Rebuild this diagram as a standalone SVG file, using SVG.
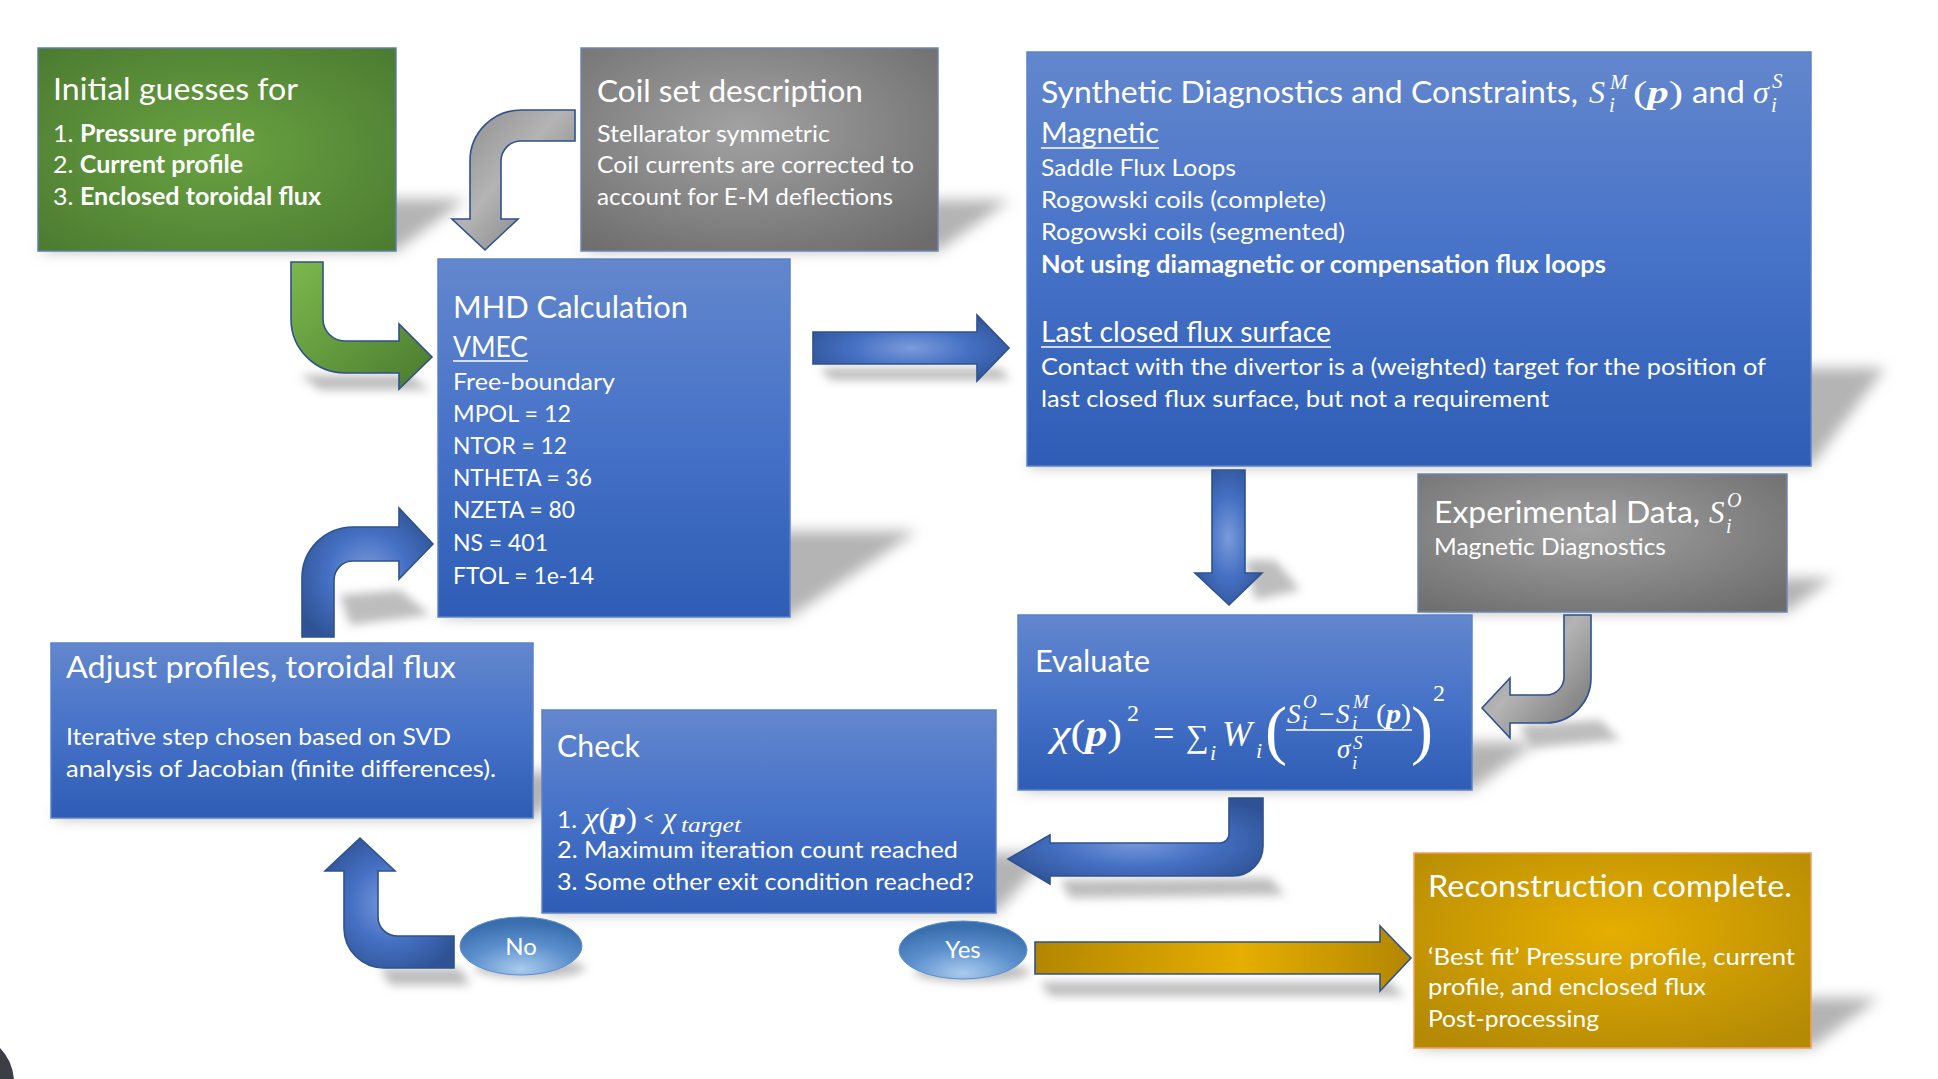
<svg xmlns="http://www.w3.org/2000/svg" width="1938" height="1079" viewBox="0 0 1938 1079">
<style>
.t{font-family:Lato,"Open Sans","Noto Sans",sans-serif;fill:#fff}
.ti{font-size:31px}
.bd{font-size:24px}
.sh{font-size:28px}
.b{font-weight:bold}
.m{font-family:"Liberation Serif","DejaVu Serif",serif;fill:#fff;font-style:italic}
.n{font-style:normal}
.bi{font-weight:bold;font-style:italic}
.ul{stroke:#fff;stroke-width:1.6}
.blue{fill:url(#gBlue);stroke:#5b82c9;stroke-width:1.5}
.gray{fill:url(#gGray);stroke:#6f86b3;stroke-width:1.5}
.green{fill:url(#gGreen);stroke:#5a80a8;stroke-width:1.5}
.gold{fill:url(#gGold);stroke:#f0a060;stroke-width:1.5}
.shd{fill:#b4b4b4;filter:url(#blur)}
.ashd{fill:#bdbdbd;filter:url(#blur2)}
.arr{stroke:#2f528f;stroke-width:1.6;stroke-linejoin:miter}
.ell{fill:url(#gEll);stroke:#5b8fd0;stroke-width:1}
</style>
<defs>
<linearGradient id="gBlue" x1="0" y1="0" x2="0" y2="1">
<stop offset="0" stop-color="#6387cd"/><stop offset="0.5" stop-color="#4672c8"/><stop offset="1" stop-color="#2f5db5"/>
</linearGradient>
<radialGradient id="gGray" cx="0.45" cy="0.4" r="0.75">
<stop offset="0" stop-color="#a2a2a2"/><stop offset="1" stop-color="#6c6c6c"/>
</radialGradient>
<radialGradient id="gGreen" cx="0.5" cy="0.5" r="0.7">
<stop offset="0" stop-color="#69a241"/><stop offset="1" stop-color="#4c7b31"/>
</radialGradient>
<radialGradient id="gGold" cx="0.5" cy="0.4" r="0.7">
<stop offset="0" stop-color="#e6ae00"/><stop offset="1" stop-color="#b48a05"/>
</radialGradient>
<radialGradient id="gArrB" cx="0.5" cy="0.5" r="0.6">
<stop offset="0" stop-color="#7b9bdb"/><stop offset="0.5" stop-color="#4570c3"/><stop offset="1" stop-color="#2e5294"/>
</radialGradient>
<linearGradient id="gArrGray" x1="0" y1="0" x2="1" y2="1">
<stop offset="0" stop-color="#8a8a8a"/><stop offset="0.45" stop-color="#b4b4b4"/><stop offset="1" stop-color="#6e6e6e"/>
</linearGradient>
<linearGradient id="gArrGreen" x1="0" y1="0" x2="1" y2="1">
<stop offset="0" stop-color="#7cb84d"/><stop offset="1" stop-color="#4a7a2e"/>
</linearGradient>
<linearGradient id="gArrGold" x1="0" y1="0" x2="1" y2="0">
<stop offset="0" stop-color="#b28600"/><stop offset="0.55" stop-color="#e6ae00"/><stop offset="1" stop-color="#b28600"/>
</linearGradient>
<radialGradient id="gEll" cx="0.5" cy="0.9" r="0.8">
<stop offset="0" stop-color="#a9cbee"/><stop offset="0.55" stop-color="#5b8fcc"/><stop offset="1" stop-color="#3a6fae"/>
</radialGradient>
<filter id="blur" x="-20%" y="-40%" width="140%" height="180%"><feGaussianBlur stdDeviation="7"/></filter>
<filter id="blur2" x="-20%" y="-60%" width="140%" height="220%"><feGaussianBlur stdDeviation="5"/></filter>
</defs>
<rect width="1938" height="1079" fill="#fff"/>
<path d="M0,1048 Q12,1060 14,1079 L0,1079 Z" fill="#3b3e45"/>

<g id="shadows">
<polygon class="shd" points="38,251 396,251 466,199 108,199"/>
<polygon class="shd" points="581,251 938,251 1010,200 653,200"/>
<polygon class="shd" points="438,617 790,617 917,531 565,531"/>
<polygon class="shd" points="1027,466 1811,466 1885,368 1101,368"/>
<polygon class="shd" points="1418,612 1787,612 1833,578 1464,578"/>
<polygon class="shd" points="1018,790 1472,790 1537,742 1083,742"/>
<polygon class="shd" points="51,818 533,818 593,772 111,772"/>
<polygon class="shd" points="542,913 996,913 1051,853 597,853"/>
<polygon class="shd" points="1414,1048 1811,1048 1879,998 1482,998"/>
<polygon class="ashd" points="820,368 1000,368 1010,380 830,380"/>
<polygon class="ashd" points="1040,982 1390,982 1405,996 1050,996"/>
<polygon class="ashd" points="300,375 410,375 430,390 320,390"/>
<polygon class="ashd" points="1245,560 1275,560 1300,590 1255,600"/>
<polygon class="ashd" points="1520,725 1600,720 1620,740 1530,748"/>
<polygon class="ashd" points="340,595 400,590 430,615 350,625"/>
<polygon class="ashd" points="1060,880 1270,878 1285,895 1070,898"/>
<polygon class="ashd" points="380,968 460,968 470,985 390,985"/>
<ellipse class="ashd" cx="530" cy="968" rx="55" ry="10"/>
<ellipse class="ashd" cx="972" cy="972" rx="58" ry="10"/>
</g>

<g id="connectors">
<path id="arrow-initial-mhd" class="arr" fill="url(#gArrGreen)" d="M291,262 H323 V319 A22,22 0 0 0 345,341 H399 V324 L432,357 L399,389 V373 H345 A54,54 0 0 1 291,319 Z"/>
<path id="arrow-coil-mhd" class="arr" fill="url(#gArrGray)" d="M575,110 V141 H521 A20,20 0 0 0 501,161 V219 H518 L485,250 L452,219 H470 V161 A51,51 0 0 1 521,110 Z"/>
<path id="arrow-adjust-mhd" class="arr" fill="url(#gArrB)" d="M302,637 V578 A51,51 0 0 1 353,527 H399 V508 L433,544 L399,579 V561 H353 A19,19 0 0 0 334,580 V637 Z"/>
<path id="arrow-mhd-synth" class="arr" fill="url(#gArrB)" d="M813,332 H977 V315 L1009,348 L977,381 V364 H813 Z"/>
<path id="arrow-synth-eval" class="arr" fill="url(#gArrB)" d="M1212,470 H1245 V573 H1262 L1229,605 L1195,573 H1212 Z"/>
<path id="arrow-exp-eval" class="arr" fill="url(#gArrGray)" d="M1564,615 H1591 V678 A45,45 0 0 1 1546,723 H1510 V738 L1482,708 L1510,678 V695 H1546 A18,18 0 0 0 1564,677 Z"/>
<path id="arrow-eval-check" class="arr" fill="url(#gArrB)" d="M1229,798 H1263 V846 A30,30 0 0 1 1233,876 H1050 V884 L1008,859 L1050,835 V843 H1220 A9,9 0 0 0 1229,834 Z"/>
<path id="arrow-no-adjust" class="arr" fill="url(#gArrB)" d="M454,936 V968 H384 A40,40 0 0 1 344,928 V871 H325 L360,838 L395,871 H378 V917 A19,19 0 0 0 397,936 Z"/>
<path id="arrow-yes-recon" class="arr" fill="url(#gArrGold)" d="M1035,942 H1380 V926 L1411,958 L1380,991 V974 H1035 Z"/>
</g>

<g id="node-initial">
<rect class="green" x="38" y="48" width="358" height="203"/>
<text class="t ti" x="53" y="100" textLength="245" lengthAdjust="spacingAndGlyphs">Initial guesses for</text>
<text class="t bd" x="53" y="142" textLength="202" lengthAdjust="spacingAndGlyphs">1. <tspan class="b">Pressure profile</tspan></text>
<text class="t bd" x="53" y="173" textLength="190" lengthAdjust="spacingAndGlyphs">2. <tspan class="b">Current profile</tspan></text>
<text class="t bd" x="53" y="205" textLength="268" lengthAdjust="spacingAndGlyphs">3. <tspan class="b">Enclosed toroidal flux</tspan></text>
</g>

<g id="node-coil">
<rect class="gray" x="581" y="48" width="357" height="203"/>
<text class="t ti" x="597" y="102" textLength="266" lengthAdjust="spacingAndGlyphs">Coil set description</text>
<text class="t bd" x="597" y="142" textLength="233" lengthAdjust="spacingAndGlyphs">Stellarator symmetric</text>
<text class="t bd" x="597" y="173" textLength="317" lengthAdjust="spacingAndGlyphs">Coil currents are corrected to</text>
<text class="t bd" x="597" y="205" textLength="296" lengthAdjust="spacingAndGlyphs">account for E-M deflections</text>
</g>

<g id="node-synthetic">
<rect class="blue" x="1027" y="52" width="784" height="414"/>
<text class="t ti" x="1041" y="103" textLength="537" lengthAdjust="spacingAndGlyphs">Synthetic Diagnostics and Constraints,</text>
<text class="m" x="1589" y="103" font-size="32">S</text>
<text class="m" x="1610" y="89" font-size="21">M</text>
<text class="m" x="1609" y="112" font-size="21">i</text>
<text class="m" x="1633" y="103" font-size="32" textLength="50" lengthAdjust="spacingAndGlyphs"><tspan class="n">(</tspan><tspan class="bi">p</tspan><tspan class="n">)</tspan></text>
<text class="t ti" x="1692" y="103" textLength="53" lengthAdjust="spacingAndGlyphs">and</text>
<text class="m" x="1753" y="103" font-size="32">σ</text>
<text class="m" x="1772" y="88" font-size="21">S</text>
<text class="m" x="1771" y="112" font-size="21">i</text>
<text class="t sh" x="1041" y="143" textLength="118" lengthAdjust="spacingAndGlyphs">Magnetic</text>
<line class="ul" x1="1041" y1="148" x2="1159" y2="148"/>
<text class="t bd" x="1041" y="176" textLength="195" lengthAdjust="spacingAndGlyphs">Saddle Flux Loops</text>
<text class="t bd" x="1041" y="208" textLength="285" lengthAdjust="spacingAndGlyphs">Rogowski coils (complete)</text>
<text class="t bd" x="1041" y="240" textLength="304" lengthAdjust="spacingAndGlyphs">Rogowski coils (segmented)</text>
<text class="t bd b" x="1041" y="273" textLength="565" lengthAdjust="spacingAndGlyphs">Not using diamagnetic or compensation flux loops</text>
<text class="t sh" x="1041" y="342" textLength="290" lengthAdjust="spacingAndGlyphs">Last closed flux surface</text>
<line class="ul" x1="1041" y1="347" x2="1331" y2="347"/>
<text class="t bd" x="1041" y="375" textLength="725" lengthAdjust="spacingAndGlyphs">Contact with the divertor is a (weighted) target for the position of</text>
<text class="t bd" x="1041" y="407" textLength="508" lengthAdjust="spacingAndGlyphs">last closed flux surface, but not a requirement</text>
</g>

<g id="node-mhd">
<rect class="blue" x="438" y="259" width="352" height="358"/>
<text class="t ti" x="453" y="318" textLength="235" lengthAdjust="spacingAndGlyphs">MHD Calculation</text>
<text class="t sh" x="453" y="357" textLength="75" lengthAdjust="spacingAndGlyphs">VMEC</text>
<line class="ul" x1="453" y1="361" x2="528" y2="361"/>
<text class="t bd" x="453" y="390" textLength="162" lengthAdjust="spacingAndGlyphs">Free-boundary</text>
<text class="t bd" x="453" y="422" textLength="118" lengthAdjust="spacingAndGlyphs">MPOL = 12</text>
<text class="t bd" x="453" y="454" textLength="114" lengthAdjust="spacingAndGlyphs">NTOR = 12</text>
<text class="t bd" x="453" y="486" textLength="139" lengthAdjust="spacingAndGlyphs">NTHETA = 36</text>
<text class="t bd" x="453" y="518" textLength="122" lengthAdjust="spacingAndGlyphs">NZETA = 80</text>
<text class="t bd" x="453" y="551" textLength="95" lengthAdjust="spacingAndGlyphs">NS = 401</text>
<text class="t bd" x="453" y="584" textLength="141" lengthAdjust="spacingAndGlyphs">FTOL = 1e-14</text>
</g>

<g id="node-experimental">
<rect class="gray" x="1418" y="474" width="369" height="138"/>
<text class="t ti" x="1434" y="523" textLength="266" lengthAdjust="spacingAndGlyphs">Experimental Data,</text>
<text class="m" x="1709" y="523" font-size="31">S</text>
<text class="m" x="1727" y="507" font-size="20">O</text>
<text class="m" x="1726" y="533" font-size="20">i</text>
<text class="t bd" x="1434" y="555" textLength="232" lengthAdjust="spacingAndGlyphs">Magnetic Diagnostics</text>
</g>

<g id="node-evaluate">
<rect class="blue" x="1018" y="615" width="454" height="175"/>
<text class="t ti" x="1035" y="672" textLength="115" lengthAdjust="spacingAndGlyphs">Evaluate</text>
<text class="m" x="1051" y="746" font-size="38" textLength="71" lengthAdjust="spacingAndGlyphs">χ<tspan class="n">(</tspan><tspan class="bi">p</tspan><tspan class="n">)</tspan></text>
<text class="m n" x="1127" y="721" font-size="24">2</text>
<text class="m n" x="1153" y="746" font-size="38">=</text>
<text class="m n" x="1186" y="747" font-size="32">∑</text>
<text class="m" x="1210" y="760" font-size="22">i</text>
<text class="m" x="1222" y="746" font-size="36">W</text>
<text class="m" x="1256" y="758" font-size="22">i</text>
<text class="m n" x="1265" y="752" font-size="66">(</text>
<text class="m" x="1287" y="723" font-size="27">S</text>
<text class="m" x="1303" y="708" font-size="19">O</text>
<text class="m" x="1302" y="729" font-size="19">i</text>
<text class="m n" x="1319" y="723" font-size="27">−</text>
<text class="m" x="1336" y="723" font-size="27">S</text>
<text class="m" x="1353" y="708" font-size="19">M</text>
<text class="m" x="1352" y="729" font-size="19">i</text>
<text class="m" x="1376" y="723" font-size="27" textLength="35" lengthAdjust="spacingAndGlyphs"><tspan class="n">(</tspan><tspan class="bi">p</tspan><tspan class="n">)</tspan></text>
<line class="ul" x1="1286" y1="730" x2="1412" y2="730"/>
<text class="m" x="1337" y="758" font-size="27">σ</text>
<text class="m" x="1353" y="749" font-size="19">S</text>
<text class="m" x="1352" y="769" font-size="19">i</text>
<text class="m n" x="1411" y="752" font-size="66">)</text>
<text class="m n" x="1433" y="701" font-size="24">2</text>
</g>

<g id="node-adjust">
<rect class="blue" x="51" y="643" width="482" height="175"/>
<text class="t ti" x="66" y="678" textLength="390" lengthAdjust="spacingAndGlyphs">Adjust profiles, toroidal flux</text>
<text class="t bd" x="66" y="745" textLength="385" lengthAdjust="spacingAndGlyphs">Iterative step chosen based on SVD</text>
<text class="t bd" x="66" y="777" textLength="430" lengthAdjust="spacingAndGlyphs">analysis of Jacobian (finite differences).</text>
</g>

<g id="node-check">
<rect class="blue" x="542" y="710" width="454" height="203"/>
<text class="t ti" x="557" y="757" textLength="83" lengthAdjust="spacingAndGlyphs">Check</text>
<text class="t bd" x="557" y="828" textLength="20" lengthAdjust="spacingAndGlyphs">1.</text>
<text class="m" x="584" y="828" font-size="30" textLength="53" lengthAdjust="spacingAndGlyphs">χ<tspan class="n">(</tspan><tspan class="bi">p</tspan><tspan class="n">)</tspan></text>
<text class="t" x="643" y="825" font-size="20">&lt;</text>
<text class="m" x="663" y="828" font-size="30">χ</text>
<text class="m" x="681" y="832" font-size="22" textLength="60" lengthAdjust="spacingAndGlyphs">target</text>
<text class="t bd" x="557" y="858" textLength="401" lengthAdjust="spacingAndGlyphs">2. Maximum iteration count reached</text>
<text class="t bd" x="557" y="890" textLength="417" lengthAdjust="spacingAndGlyphs">3. Some other exit condition reached?</text>
</g>

<g id="node-no">
<ellipse class="ell" cx="521" cy="946" rx="61" ry="29"/>
<text class="t bd" x="521" y="955" text-anchor="middle">No</text>
</g>

<g id="node-yes">
<ellipse class="ell" cx="963" cy="950" rx="64" ry="29"/>
<text class="t bd" x="963" y="958" text-anchor="middle">Yes</text>
</g>

<g id="node-reconstruction">
<rect class="gold" x="1414" y="853" width="397" height="195"/>
<text class="t ti" x="1428" y="897" textLength="364" lengthAdjust="spacingAndGlyphs">Reconstruction complete.</text>
<text class="t bd" x="1428" y="965" textLength="367" lengthAdjust="spacingAndGlyphs">‘Best fit’ Pressure profile, current</text>
<text class="t bd" x="1428" y="995" textLength="278" lengthAdjust="spacingAndGlyphs">profile, and enclosed flux</text>
<text class="t bd" x="1428" y="1027" textLength="171" lengthAdjust="spacingAndGlyphs">Post-processing</text>
</g>
</svg>
